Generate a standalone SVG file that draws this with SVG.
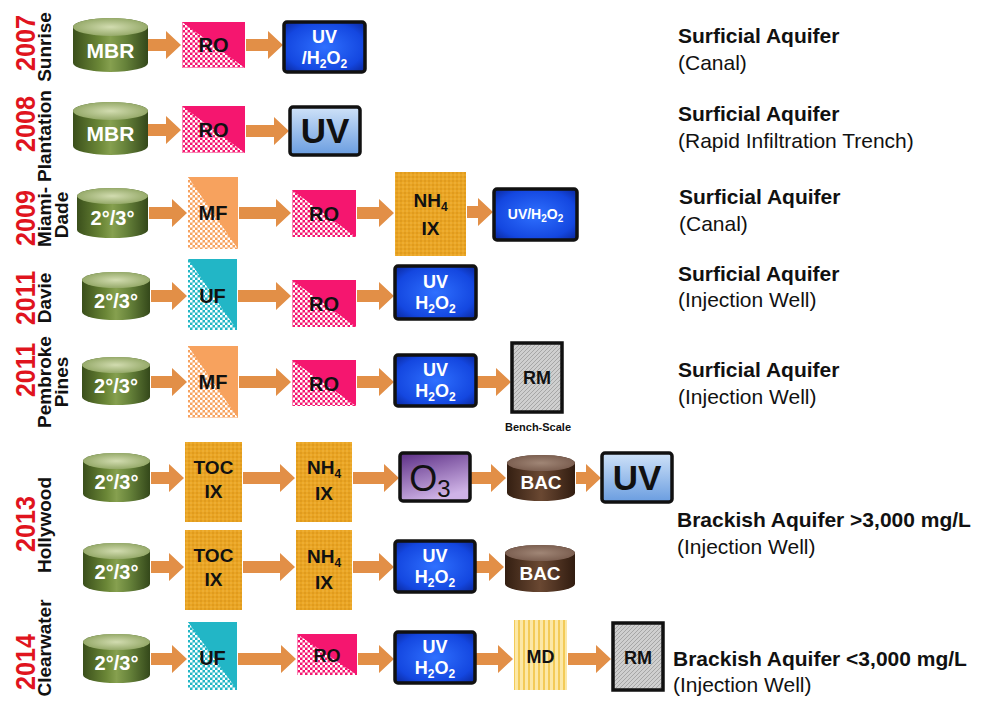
<svg xmlns="http://www.w3.org/2000/svg" width="982" height="701" viewBox="0 0 982 701">
<style>
.yr{font-family:"Liberation Sans",Arial,sans-serif;font-weight:bold;font-size:28px;fill:#E0141E;text-anchor:middle}
.nm{font-family:"Liberation Sans",Arial,sans-serif;font-weight:bold;font-size:19px;fill:#111;text-anchor:middle}
.cw{font-family:"Liberation Sans",Arial,sans-serif;font-weight:bold;font-size:20px;fill:#fff;text-anchor:middle}
.bk{font-family:"Liberation Sans",Arial,sans-serif;font-weight:bold;font-size:20px;fill:#111;text-anchor:middle}
.wt{font-family:"Liberation Sans",Arial,sans-serif;font-weight:bold;font-size:18px;fill:#fff;text-anchor:middle}
.rt1{font-family:"Liberation Sans",Arial,sans-serif;font-weight:bold;font-size:21px;fill:#111}
.rt2{font-family:"Liberation Sans",Arial,sans-serif;font-size:21px;fill:#111}
.sub{font-size:12px}
.arrow{fill:#E28F47}
.cylb{fill:url(#gGreen)}
.cylt{fill:url(#gGreenTop)}
.bacb{fill:url(#gBrown)}
.bact{fill:url(#gBrownTop)}
.ro{fill:#F5166F}
.rochk{fill:url(#pPink)}
.mf{fill:#F7A25E}
.mfchk{fill:url(#pOrange)}
.uf{fill:#22B6C6}
.ufchk{fill:url(#pTeal)}
.ix{fill:url(#pGold)}
.md{fill:url(#pYellow)}
.rm{fill:url(#pGrey);stroke:#111;stroke-width:3.5}
.uvb{fill:url(#gBlue);stroke:#111;stroke-width:3.5}
.uvl{fill:url(#gLight);stroke:#111;stroke-width:3.5}
.o3{fill:url(#gPurple);stroke:#111;stroke-width:3.5}
</style>
<defs>
<linearGradient id="gGreen" x1="0" y1="0" x2="1" y2="0">
<stop offset="0" stop-color="#3a4f1b"/><stop offset="0.35" stop-color="#6b8737"/><stop offset="0.5" stop-color="#86a04f"/><stop offset="0.7" stop-color="#66823a"/><stop offset="1" stop-color="#34481a"/>
</linearGradient>
<radialGradient id="gGreenTop" cx="0.5" cy="0.5" r="0.6">
<stop offset="0" stop-color="#d2dcb0"/><stop offset="1" stop-color="#8aa05c"/>
</radialGradient>
<linearGradient id="gBrown" x1="0" y1="0" x2="1" y2="0">
<stop offset="0" stop-color="#341f12"/><stop offset="0.5" stop-color="#6a4832"/><stop offset="1" stop-color="#311c10"/>
</linearGradient>
<radialGradient id="gBrownTop" cx="0.5" cy="0.5" r="0.6">
<stop offset="0" stop-color="#a08676"/><stop offset="1" stop-color="#75584a"/>
</radialGradient>
<radialGradient id="gBlue" cx="0.5" cy="0.5" r="0.7">
<stop offset="0" stop-color="#2f70ff"/><stop offset="0.7" stop-color="#1447e0"/><stop offset="1" stop-color="#0a2699"/>
</radialGradient>
<linearGradient id="gLight" x1="0" y1="0" x2="0" y2="1">
<stop offset="0" stop-color="#cfe2f8"/><stop offset="1" stop-color="#6a9de0"/>
</linearGradient>
<linearGradient id="gPurple" x1="0" y1="0" x2="0.4" y2="1">
<stop offset="0" stop-color="#5b2d85"/><stop offset="1" stop-color="#cfb3e6"/>
</linearGradient>
<pattern id="pPink" width="5" height="5" patternUnits="userSpaceOnUse">
<rect width="5" height="5" fill="#F5166F"/><rect width="2.5" height="2.5" fill="#fff"/><rect x="2.5" y="2.5" width="2.5" height="2.5" fill="#fff"/>
</pattern>
<pattern id="pOrange" width="5" height="5" patternUnits="userSpaceOnUse">
<rect width="5" height="5" fill="#F7A25E"/><rect width="2.5" height="2.5" fill="#fff"/><rect x="2.5" y="2.5" width="2.5" height="2.5" fill="#fff"/>
</pattern>
<pattern id="pTeal" width="5" height="5" patternUnits="userSpaceOnUse">
<rect width="5" height="5" fill="#22B6C6"/><rect width="2.5" height="2.5" fill="#fff"/><rect x="2.5" y="2.5" width="2.5" height="2.5" fill="#fff"/>
</pattern>
<pattern id="pGold" width="4" height="4" patternUnits="userSpaceOnUse">
<rect width="4" height="4" fill="#EAA524"/><circle cx="1" cy="1" r="0.7" fill="#d08a12"/><circle cx="3" cy="3" r="0.7" fill="#f3bd4c"/>
</pattern>
<pattern id="pYellow" width="5" height="5" patternUnits="userSpaceOnUse">
<rect width="5" height="5" fill="#FCE8A6"/><rect x="3" width="2" height="5" fill="#F3CB57"/>
</pattern>
<pattern id="pGrey" width="4" height="4" patternUnits="userSpaceOnUse">
<rect width="4" height="4" fill="#cfcfcf"/><path d="M0,4 L4,0" stroke="#a6a6a6" stroke-width="1"/>
</pattern>
</defs>
<rect width="982" height="701" fill="#fff"/>

<g id="labels">
<text class="yr" transform="translate(35,43) rotate(-90)" textLength="56" lengthAdjust="spacingAndGlyphs">2007</text>
<text class="nm" transform="translate(51,47) rotate(-90)">Sunrise</text>
<text class="yr" transform="translate(35,124) rotate(-90)" textLength="56" lengthAdjust="spacingAndGlyphs">2008</text>
<text class="nm" transform="translate(51,136) rotate(-90)">Plantation</text>
<text class="yr" transform="translate(35,218) rotate(-90)" textLength="56" lengthAdjust="spacingAndGlyphs">2009</text>
<text class="nm" transform="translate(51,217) rotate(-90)">Miami-</text>
<text class="nm" transform="translate(68,215) rotate(-90)">Dade</text>
<text class="yr" transform="translate(35,298) rotate(-90)" textLength="54" lengthAdjust="spacingAndGlyphs">2011</text>
<text class="nm" transform="translate(51,298) rotate(-90)">Davie</text>
<text class="yr" transform="translate(35,370) rotate(-90)" textLength="54" lengthAdjust="spacingAndGlyphs">2011</text>
<text class="nm" transform="translate(51,382) rotate(-90)">Pembroke</text>
<text class="nm" transform="translate(68,382) rotate(-90)">Pines</text>
<text class="yr" transform="translate(35,524) rotate(-90)" textLength="56" lengthAdjust="spacingAndGlyphs">2013</text>
<text class="nm" transform="translate(51,525) rotate(-90)">Hollywood</text>
<text class="yr" transform="translate(35,662) rotate(-90)" textLength="56" lengthAdjust="spacingAndGlyphs">2014</text>
<text class="nm" transform="translate(51,648) rotate(-90)">Clearwater</text>
</g>

<g id="connectors">
<polygon class="arrow" points="148,39 166,39 166,31 181,45 166,59 166,51 148,51"/>
<polygon class="arrow" points="246,39 268,39 268,31 283,45 268,59 268,51 246,51"/>
<polygon class="arrow" points="148,124 166,124 166,116 181,130 166,144 166,136 148,136"/>
<polygon class="arrow" points="246,125 274,125 274,117 289,131 274,145 274,137 246,137"/>
<polygon class="arrow" points="149,207 172,207 172,199 187,213 172,227 172,219 149,219"/>
<polygon class="arrow" points="239,207 276,207 276,199 291,213 276,227 276,219 239,219"/>
<polygon class="arrow" points="357,207 379,207 379,199 394,213 379,227 379,219 357,219"/>
<polygon class="arrow" points="467,206 478,206 478,198 493,212 478,226 478,218 467,218"/>
<polygon class="arrow" points="151,290 172,290 172,282 187,296 172,310 172,302 151,302"/>
<polygon class="arrow" points="238,290 276,290 276,282 291,296 276,310 276,302 238,302"/>
<polygon class="arrow" points="357,290 379,290 379,282 394,296 379,310 379,302 357,302"/>
<polygon class="arrow" points="151,376 172,376 172,368 187,382 172,396 172,388 151,388"/>
<polygon class="arrow" points="239,376 276,376 276,368 291,382 276,396 276,388 239,388"/>
<polygon class="arrow" points="357,376 379,376 379,368 394,382 379,396 379,388 357,388"/>
<polygon class="arrow" points="477,376 496,376 496,368 511,382 496,396 496,388 477,388"/>
<polygon class="arrow" points="151,472 169,472 169,464 184,478 169,492 169,484 151,484"/>
<polygon class="arrow" points="243,472 280,472 280,464 295,478 280,492 280,484 243,484"/>
<polygon class="arrow" points="353,472 384,472 384,464 399,478 384,492 384,484 353,484"/>
<polygon class="arrow" points="471,472 491,472 491,464 506,478 491,492 491,484 471,484"/>
<polygon class="arrow" points="576,472 586,472 586,464 601,478 586,492 586,484 576,484"/>
<polygon class="arrow" points="151,561 169,561 169,553 184,567 169,581 169,573 151,573"/>
<polygon class="arrow" points="243,561 280,561 280,553 295,567 280,581 280,573 243,573"/>
<polygon class="arrow" points="353,561 379,561 379,553 394,567 379,581 379,573 353,573"/>
<polygon class="arrow" points="476,561 489,561 489,553 504,567 489,581 489,573 476,573"/>
<polygon class="arrow" points="151,653 172,653 172,645 187,659 172,673 172,665 151,665"/>
<polygon class="arrow" points="238,653 281,653 281,645 296,659 281,673 281,665 238,665"/>
<polygon class="arrow" points="358,653 379,653 379,645 394,659 379,673 379,665 358,665"/>
<polygon class="arrow" points="476,653 498,653 498,645 513,659 498,673 498,665 476,665"/>
<polygon class="arrow" points="568,653 596,653 596,645 611,659 596,673 596,665 568,665"/>
</g>

<!-- Row 1: 2007 Sunrise -->
<g id="r1-mbr">
<path class="cylb" d="M73,27 A37.5,9 0 0 1 148,27 V63 A37.5,9 0 0 1 73,63 Z"/>
<ellipse class="cylt" cx="110.5" cy="27" rx="37.5" ry="9"/>
<text class="cw" x="110.5" y="58" style="font-size:21px">MBR</text>
</g>
<g id="r1-ro">
<rect class="ro" x="182" y="22" width="63" height="46"/>
<polygon class="rochk" points="182,22 245,68 182,68"/>
<text class="bk" x="213.5" y="52">RO</text>
</g>
<g id="r1-uvh2o2">
<rect class="uvb" x="284" y="22" width="81" height="50" rx="3"/>
<text class="wt" x="324.5" y="43">UV</text>
<text class="wt" x="324.5" y="64">/H<tspan class="sub" dy="4">2</tspan><tspan dy="-4">O</tspan><tspan class="sub" dy="4">2</tspan></text>
</g>
<g id="r1-dest">
<text class="rt1" x="678" y="43">Surficial Aquifer</text>
<text class="rt2" x="678" y="70">(Canal)</text>
</g>

<!-- Row 2: 2008 Plantation -->
<g id="r2-mbr">
<path class="cylb" d="M73,111 A37.5,9 0 0 1 148,111 V146 A37.5,9 0 0 1 73,146 Z"/>
<ellipse class="cylt" cx="110.5" cy="111" rx="37.5" ry="9"/>
<text class="cw" x="110.5" y="141" style="font-size:21px">MBR</text>
</g>
<g id="r2-ro">
<rect class="ro" x="182" y="106" width="63" height="47"/>
<polygon class="rochk" points="182,106 245,153 182,153"/>
<text class="bk" x="213.5" y="137">RO</text>
</g>
<g id="r2-uv">
<rect class="uvl" x="290" y="107" width="70" height="48" rx="3"/>
<text class="bk" x="325" y="143" style="font-size:35px">UV</text>
</g>
<g id="r2-dest">
<text class="rt1" x="678" y="121">Surficial Aquifer</text>
<text class="rt2" x="678" y="148">(Rapid Infiltration Trench)</text>
</g>

<!-- Row 3: 2009 Miami-Dade -->
<g id="r3-sec">
<path class="cylb" d="M77,196 A35.5,8 0 0 1 148,196 V230 A35.5,8 0 0 1 77,230 Z"/>
<ellipse class="cylt" cx="112.5" cy="196" rx="35.5" ry="8"/>
<text class="cw" x="112.5" y="225">2°/3°</text>
</g>
<g id="r3-mf">
<rect class="mf" x="188" y="177" width="50" height="72"/>
<polygon class="mfchk" points="188,177 238,249 188,249"/>
<text class="bk" x="213" y="220">MF</text>
</g>
<g id="r3-ro">
<rect class="ro" x="292" y="190" width="64" height="47"/>
<polygon class="rochk" points="292,190 356,237 292,237"/>
<text class="bk" x="324" y="221">RO</text>
</g>
<g id="r3-nh4ix">
<rect class="ix" x="395" y="172" width="71" height="84"/>
<text class="bk" x="430.5" y="207" style="font-size:19px">NH<tspan class="sub" dy="4">4</tspan></text>
<text class="bk" x="430.5" y="235" style="font-size:19px">IX</text>
</g>
<g id="r3-uvh2o2">
<rect class="uvb" x="494" y="189" width="83" height="51" rx="3"/>
<text class="wt" x="535.5" y="219" style="font-size:14px">UV/H<tspan style="font-size:10px" dy="3">2</tspan><tspan dy="-3">O</tspan><tspan style="font-size:10px" dy="3">2</tspan></text>
</g>
<g id="r3-dest">
<text class="rt1" x="679" y="204">Surficial Aquifer</text>
<text class="rt2" x="679" y="231">(Canal)</text>
</g>

<!-- Row 4: 2011 Davie -->
<g id="r4-sec">
<path class="cylb" d="M82,280 A34,8 0 0 1 150,280 V312 A34,8 0 0 1 82,312 Z"/>
<ellipse class="cylt" cx="116" cy="280" rx="34" ry="8"/>
<text class="cw" x="116" y="308">2°/3°</text>
</g>
<g id="r4-uf">
<rect class="uf" x="188" y="259" width="49" height="71"/>
<polygon class="ufchk" points="188,259 237,330 188,330"/>
<text class="bk" x="212.5" y="303">UF</text>
</g>
<g id="r4-ro">
<rect class="ro" x="292" y="280" width="64" height="47"/>
<polygon class="rochk" points="292,280 356,327 292,327"/>
<text class="bk" x="324" y="311">RO</text>
</g>
<g id="r4-uvh2o2">
<rect class="uvb" x="395" y="266" width="81" height="53" rx="3"/>
<text class="wt" x="435.5" y="288">UV</text>
<text class="wt" x="435.5" y="309">H<tspan class="sub" dy="4">2</tspan><tspan dy="-4">O</tspan><tspan class="sub" dy="4">2</tspan></text>
</g>
<g id="r4-dest">
<text class="rt1" x="678" y="281">Surficial Aquifer</text>
<text class="rt2" x="678" y="307">(Injection Well)</text>
</g>

<!-- Row 5: 2011 Pembroke Pines -->
<g id="r5-sec">
<path class="cylb" d="M82,365 A34,8 0 0 1 150,365 V397 A34,8 0 0 1 82,397 Z"/>
<ellipse class="cylt" cx="116" cy="365" rx="34" ry="8"/>
<text class="cw" x="116" y="393">2°/3°</text>
</g>
<g id="r5-mf">
<rect class="mf" x="188" y="346" width="50" height="72"/>
<polygon class="mfchk" points="188,346 238,418 188,418"/>
<text class="bk" x="213" y="389">MF</text>
</g>
<g id="r5-ro">
<rect class="ro" x="292" y="360" width="64" height="46"/>
<polygon class="rochk" points="292,360 356,406 292,406"/>
<text class="bk" x="324" y="391">RO</text>
</g>
<g id="r5-uvh2o2">
<rect class="uvb" x="395" y="355" width="81" height="51" rx="3"/>
<text class="wt" x="435.5" y="376">UV</text>
<text class="wt" x="435.5" y="397">H<tspan class="sub" dy="4">2</tspan><tspan dy="-4">O</tspan><tspan class="sub" dy="4">2</tspan></text>
</g>
<g id="r5-rm">
<rect class="rm" x="512" y="343" width="50" height="69"/>
<text class="bk" x="537" y="384" style="font-size:18px">RM</text>
<text class="bk" x="538" y="431" style="font-size:11px">Bench-Scale</text>
</g>
<g id="r5-dest">
<text class="rt1" x="678" y="377">Surficial Aquifer</text>
<text class="rt2" x="678" y="404">(Injection Well)</text>
</g>

<!-- Row 6: 2013 Hollywood (a) -->
<g id="r6-sec">
<path class="cylb" d="M83,461 A33.5,8 0 0 1 150,461 V494 A33.5,8 0 0 1 83,494 Z"/>
<ellipse class="cylt" cx="116.5" cy="461" rx="33.5" ry="8"/>
<text class="cw" x="116.5" y="489">2°/3°</text>
</g>
<g id="r6-tocix">
<rect class="ix" x="185" y="442" width="57" height="80"/>
<text class="bk" x="213.5" y="474" style="font-size:19px">TOC</text>
<text class="bk" x="213.5" y="498" style="font-size:19px">IX</text>
</g>
<g id="r6-nh4ix">
<rect class="ix" x="296" y="442" width="56" height="80"/>
<text class="bk" x="324" y="474" style="font-size:19px">NH<tspan class="sub" dy="4">4</tspan></text>
<text class="bk" x="324" y="500" style="font-size:19px">IX</text>
</g>
<g id="r6-o3">
<rect class="o3" x="400" y="453" width="70" height="48" rx="3"/>
<text x="430" y="491" style="font-family:'Liberation Sans',Arial,sans-serif;font-size:36px;fill:#111;text-anchor:middle">O<tspan style="font-size:24px" dy="6">3</tspan></text>
</g>
<g id="r6-bac">
<path class="bacb" d="M507,463 A34,8 0 0 1 575,463 V493 A34,8 0 0 1 507,493 Z"/>
<ellipse class="bact" cx="541" cy="463" rx="34" ry="8"/>
<text class="cw" x="541" y="489" style="font-size:19px">BAC</text>
</g>
<g id="r6-uv">
<rect class="uvl" x="602" y="453" width="70" height="49" rx="3"/>
<text class="bk" x="637" y="490" style="font-size:35px">UV</text>
</g>

<!-- Row 7: 2013 Hollywood (b) -->
<g id="r7-sec">
<path class="cylb" d="M83,551 A33.5,8 0 0 1 150,551 V584 A33.5,8 0 0 1 83,584 Z"/>
<ellipse class="cylt" cx="116.5" cy="551" rx="33.5" ry="8"/>
<text class="cw" x="116.5" y="579">2°/3°</text>
</g>
<g id="r7-tocix">
<rect class="ix" x="185" y="530" width="57" height="80"/>
<text class="bk" x="213.5" y="562" style="font-size:19px">TOC</text>
<text class="bk" x="213.5" y="586" style="font-size:19px">IX</text>
</g>
<g id="r7-nh4ix">
<rect class="ix" x="296" y="530" width="56" height="80"/>
<text class="bk" x="324" y="563" style="font-size:19px">NH<tspan class="sub" dy="4">4</tspan></text>
<text class="bk" x="324" y="589" style="font-size:19px">IX</text>
</g>
<g id="r7-uvh2o2">
<rect class="uvb" x="395" y="541" width="80" height="51" rx="3"/>
<text class="wt" x="435" y="562">UV</text>
<text class="wt" x="435" y="583">H<tspan class="sub" dy="4">2</tspan><tspan dy="-4">O</tspan><tspan class="sub" dy="4">2</tspan></text>
</g>
<g id="r7-bac">
<path class="bacb" d="M505,553 A35,8 0 0 1 575,553 V584 A35,8 0 0 1 505,584 Z"/>
<ellipse class="bact" cx="540" cy="553" rx="35" ry="8"/>
<text class="cw" x="540" y="580" style="font-size:19px">BAC</text>
</g>
<g id="r67-dest">
<text class="rt1" x="677" y="527">Brackish Aquifer &gt;3,000 mg/L</text>
<text class="rt2" x="677" y="554">(Injection Well)</text>
</g>

<!-- Row 8: 2014 Clearwater -->
<g id="r8-sec">
<path class="cylb" d="M83,642 A33.5,8 0 0 1 150,642 V675 A33.5,8 0 0 1 83,675 Z"/>
<ellipse class="cylt" cx="116.5" cy="642" rx="33.5" ry="8"/>
<text class="cw" x="116.5" y="670">2°/3°</text>
</g>
<g id="r8-uf">
<rect class="uf" x="188" y="622" width="49" height="68"/>
<polygon class="ufchk" points="188,622 237,690 188,690"/>
<text class="bk" x="212.5" y="665">UF</text>
</g>
<g id="r8-ro">
<rect class="ro" x="297" y="634" width="60" height="41"/>
<polygon class="rochk" points="297,634 357,675 297,675"/>
<text class="bk" x="327" y="662" style="font-size:18px">RO</text>
</g>
<g id="r8-uvh2o2">
<rect class="uvb" x="395" y="632" width="80" height="51" rx="3"/>
<text class="wt" x="435" y="653">UV</text>
<text class="wt" x="435" y="674">H<tspan class="sub" dy="4">2</tspan><tspan dy="-4">O</tspan><tspan class="sub" dy="4">2</tspan></text>
</g>
<g id="r8-md">
<rect class="md" x="514" y="620" width="53" height="70"/>
<text class="bk" x="540.5" y="663" style="font-size:18px">MD</text>
</g>
<g id="r8-rm">
<rect class="rm" x="613" y="623" width="50" height="67"/>
<text class="bk" x="638" y="664" style="font-size:18px">RM</text>
</g>
<g id="r8-dest">
<text class="rt1" x="673" y="666">Brackish Aquifer &lt;3,000 mg/L</text>
<text class="rt2" x="673" y="692">(Injection Well)</text>
</g>
</svg>
